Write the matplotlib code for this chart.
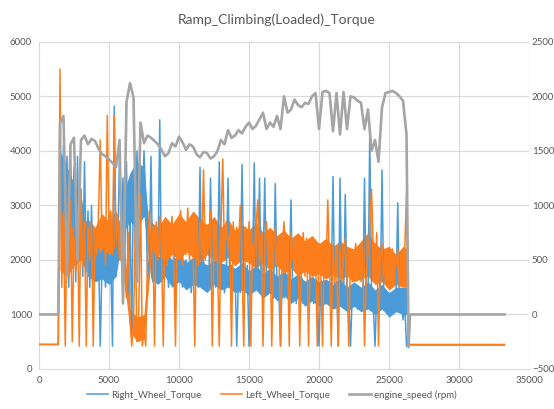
import numpy as np
import matplotlib.pyplot as plt

# torque traces: idle level, then one sample every 125 counts from 1500 to 26375
idle_torque = 450
torque_start, torque_step = 1500, 125

right_torque = [
    3800, 2900, 4100, 3000, 3900, 1500, 4000, 2600,
    3700, 1600, 3900, 2000, 3300, 1700, 3800, 1800,
    2900, 1500, 3000, 1700, 2400, 1800, 2200, 420,
    1900, 2200, 1500, 2100, 1700, 2000, 420, 4820,
    1700, 2200, 3900, 2600, 3500, 2000, 3800, 1400,
    2900, 600, 3600, 2300, 4000, 2800, 3700, 3000,
    4000, 3100, 1700, 2000, 3900, 1600, 2100, 1800,
    1900, 4570, 1600, 2000, 1700, 2100, 1500, 1900,
    1700, 2100, 1300, 1900, 1600, 2000, 1500, 1800,
    2000, 1600, 1900, 1400, 2000, 1600, 1800, 1500,
    3700, 1700, 2000, 1600, 1900, 1500, 3500, 1700,
    1900, 1500, 1800, 3800, 1600, 1900, 1400, 1800,
    3500, 1600, 1900, 1500, 1800, 420, 1700, 1400,
    3750, 1700, 1500, 1900, 420, 1600, 1800, 3780,
    1500, 1800, 3500, 1400, 1700, 3500, 1500, 1800,
    1400, 1700, 1300, 3400, 1600, 1500, 420, 1700,
    1300, 1600, 1400, 1700, 3100, 1300, 1600, 1200,
    1500, 1300, 1700, 1200, 1600, 1400, 1300, 1700,
    1600, 1200, 1500, 1300, 420, 1600, 1200, 1500,
    1300, 1600, 1200, 1500, 3530, 1300, 1600, 420,
    3500, 1400, 1200, 3200, 1500, 1300, 420, 1400,
    1200, 1500, 1100, 1400, 1300, 1200, 3500, 1400,
    1300, 4300, 1500, 1200, 420, 1400, 1100, 1300,
    3650, 1300, 1200, 1400, 1000, 1300, 1100, 1200,
    1300, 3050, 1100, 1400, 900, 1200, 420, 420,
]

left_torque = [
    5500, 1500, 2900, 420, 2600, 1700, 3100, 500,
    2400, 1800, 2800, 420, 3300, 1900, 2700, 420,
    2600, 2000, 2700, 420, 2500, 2100, 2800, 4200,
    2300, 2600, 1900, 4650, 2500, 2900, 2100, 4650,
    2400, 2800, 2000, 2700, 2200, 1700, 1300, 2500,
    900, 420, 800, 2600, 500, 1000, 3200, 420,
    700, 420, 2000, 2900, 2100, 2600, 420, 2700,
    2000, 2800, 2200, 420, 2600, 1900, 2700, 2100,
    2800, 2000, 420, 2700, 2200, 2900, 1900, 2600,
    2100, 2950, 2000, 2700, 2300, 420, 2600, 1900,
    2700, 2100, 3650, 2000, 2600, 2200, 2900, 420,
    2300, 2700, 1900, 420, 2600, 3850, 2000, 2700,
    2200, 2500, 420, 2700, 1900, 2600, 2200, 3000,
    1900, 420, 2600, 2100, 2700, 420, 2300, 2000,
    2600, 3100, 1900, 2500, 420, 2200, 2700, 2000,
    2500, 420, 2100, 2600, 1900, 2400, 420, 2200,
    2700, 1800, 2300, 420, 2500, 2000, 2400, 1800,
    2300, 420, 2100, 2500, 1700, 2400, 420, 2000,
    2400, 1700, 2200, 420, 2300, 1800, 420, 2200,
    1700, 3100, 1900, 420, 2300, 1600, 2100, 420,
    2200, 1600, 2000, 2400, 1700, 420, 2100, 1600,
    2000, 2300, 1700, 2100, 1600, 2200, 420, 1800,
    2100, 2600, 3300, 2200, 1900, 2500, 420, 2000,
    2300, 1700, 2100, 1600, 2000, 1500, 2200, 1700,
    1900, 2200, 1500, 2100, 1600, 2200, 3230, 450,
]

# spread of the dense sample-to-sample jitter around each torque trace (every 500 counts)
band_x = [1500, 2000, 2500, 3000, 3500, 4000, 4500, 5000, 5500, 6000,
          6500, 7000, 7500, 8000, 8500, 9000, 9500, 10000, 10500, 11000,
          11500, 12000, 12500, 13000, 13500, 14000, 14500, 15000, 15500, 16000,
          16500, 17000, 17500, 18000, 18500, 19000, 19500, 20000, 20500, 21000,
          21500, 22000, 22500, 23000, 23500, 24000, 24500, 25000, 25500, 26000, 26300]
left_lo = [1800, 1700, 1900, 2000, 2100, 2000, 2200, 2100, 2250, 1800,
           700, 500, 550, 2000, 2100, 1950, 2100, 2000, 2150, 2050,
           1950, 2100, 2000, 1950, 2050, 1900, 2000, 1950, 1850, 1950,
           1800, 1900, 1750, 1850, 1700, 1800, 1700, 1750, 1650, 1750,
           1650, 1700, 1600, 1650, 1700, 1550, 1600, 1450, 1550, 1500, 1500]
left_hi = [2900, 2700, 2850, 2650, 2750, 2600, 2850, 2700, 2900, 2500,
           1100, 950, 1000, 2700, 2600, 2800, 2650, 2850, 2700, 2900,
           2750, 2650, 2800, 2600, 2750, 2550, 2650, 2550, 2700, 2500,
           2600, 2450, 2550, 2400, 2500, 2350, 2450, 2300, 2400, 2250,
           2350, 2250, 2200, 2350, 2500, 2300, 2200, 2250, 2100, 2250, 2200]
right_lo = [2900, 2600, 2300, 2000, 1700, 1600, 1650, 1550, 1700, 2500,
            2700, 2600, 2800, 1650, 1550, 1700, 1500, 1600, 1450, 1550,
            1500, 1400, 1550, 1450, 1500, 1400, 1450, 1350, 1450, 1300,
            1400, 1250, 1350, 1200, 1300, 1150, 1250, 1150, 1200, 1100,
            1150, 1050, 1150, 1050, 1100, 1000, 1100, 950, 1050, 1000, 1000]
right_hi = [4000, 3700, 3400, 3200, 2300, 2150, 2250, 2100, 2300, 3200,
            3600, 3800, 3700, 2150, 2050, 2200, 2000, 2100, 1950, 2050,
            2000, 1900, 2000, 1950, 1900, 1850, 1950, 1800, 1900, 1750,
            1850, 1700, 1800, 1650, 1750, 1600, 1700, 1600, 1650, 1550,
            1650, 1500, 1600, 1500, 1600, 1450, 1550, 1400, 1500, 1500, 1500]

# engine speed: one sample every 250 counts from 1500 to 26250
speed_start, speed_step = 1500, 250
engine_speed = [
    1750, 1820, 350, 1560, 1620, 500, 1600, 1640, 1560, 1610,
    1590, 1520, 1470, 1450, 1420, 1390, 1350, 1600, 100, 1950,
    2120, 1990, 300, 1760, 1570, 1640, 1620, 1590, 1560, 1510,
    1450, 1480, 1570, 1540, 1630, 1580, 1510, 1560, 1540, 1470,
    1440, 1490, 1480, 1430, 1450, 1500, 1600, 1560, 1690, 1620,
    1640, 1690, 1660, 1720, 1760, 1700, 1730, 1790, 1850, 1700,
    1760, 1720, 1820, 1700, 2000, 1850, 1880, 1970, 1920, 1900,
    1940, 1930, 2000, 2030, 1700, 2040, 2050, 2030, 1680, 2030,
    1650, 2040, 1700, 2000, 1990, 1960, 1940, 1700, 1880, 1500,
    1600, 1400, 1900, 2030, 2040, 2050, 2030, 2000, 1960, 1650,
]
speed_tail_x = [26400, 26500, 33250]
speed_tail = [-300, 0, 0]
record_end = 33250

blue = "#4a9bd8"
orange = "#fb7d1c"
gray = "#a5a5a5"
text_col = "#595959"
grid_col = "#d9d9d9"

tq_x = torque_start + torque_step * np.arange(len(left_torque))
right_x = np.concatenate([[0, torque_start - torque_step], tq_x, [tq_x[-1] + torque_step, record_end]])
right_y = np.concatenate([[idle_torque, idle_torque], right_torque, [idle_torque - 10, idle_torque - 10]])
left_y = np.concatenate([[idle_torque, idle_torque], left_torque, [idle_torque, idle_torque]])

sp_x = speed_start + speed_step * np.arange(len(engine_speed))
speed_x = np.concatenate([[0, speed_start - 125], sp_x, speed_tail_x])
speed_y = np.concatenate([[0, 0], engine_speed, speed_tail])

plt.rcParams['font.family'] = ['Lato', 'DejaVu Sans']

fig = plt.figure(figsize=(5.54, 4.09), dpi=100)
ax = fig.add_axes([0.0704, 0.0978, 0.8845, 0.800])

ax.fill_between(band_x, right_lo, right_hi, color=blue, lw=0)
l1, = ax.plot(right_x, right_y, color=blue, lw=1.1, label="Right_Wheel_Torque")
ax.fill_between(band_x, left_lo, left_hi, color=orange, lw=0)
l2, = ax.plot(right_x, left_y, color=orange, lw=1.1, label="Left_Wheel_Torque")

ax.set_xlim(0, 35000)
ax.set_ylim(0, 6000)
ax.set_xticks(np.arange(0, 35001, 5000))
ax.set_yticks(np.arange(0, 6001, 1000))
ax.grid(True, color=grid_col, lw=0.8)
ax.set_axisbelow(True)
for s in ax.spines.values():
    s.set_visible(False)
ax.spines['bottom'].set_visible(True)
ax.spines['bottom'].set_color(grid_col)
ax.tick_params(length=0, labelsize=7, labelcolor=text_col, pad=5)

ax2 = ax.twinx()
l3, = ax2.plot(speed_x, speed_y, color=gray, lw=1.9, label="engine_speed (rpm)")
ax2.set_ylim(-500, 2500)
ax2.set_yticks(np.arange(-500, 2501, 500))
for s in ax2.spines.values():
    s.set_visible(False)
ax2.tick_params(length=0, labelsize=7, labelcolor=text_col, pad=2)

fig.suptitle("Ramp_Climbing(Loaded)_Torque", x=0.5, y=0.967, fontsize=10, color=text_col)

fig.legend(handles=[l1, l2, l3], loc="center", bbox_to_anchor=(0.49, 0.034), ncol=3,
           frameon=False, fontsize=7, labelcolor=text_col, handlelength=2.2,
           handletextpad=0.3, columnspacing=2.0)

fig.savefig("out.png", dpi=100)
